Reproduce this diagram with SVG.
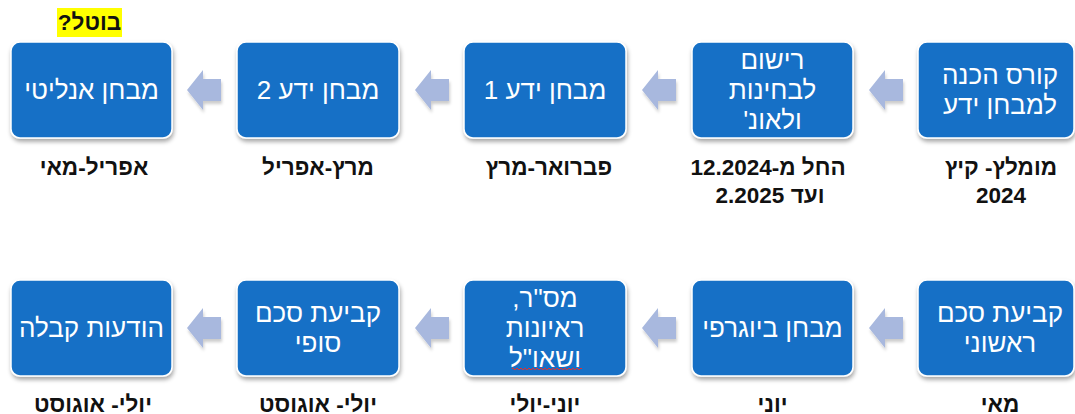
<svg xmlns="http://www.w3.org/2000/svg" width="1075" height="414" viewBox="0 0 1075 414">
<defs>
<filter id="sh" x="-10%" y="-10%" width="125%" height="130%">
<feDropShadow dx="1" dy="3" stdDeviation="2" flood-color="#000" flood-opacity="0.35"/>
</filter>
<filter id="ash" x="-20%" y="-20%" width="150%" height="150%">
<feDropShadow dx="1" dy="3" stdDeviation="1.5" flood-color="#000" flood-opacity="0.2"/>
</filter>
<polygon id="arr" points="0,20 16,0 16,9 34,9 34,31 16,31 16,40" />
</defs>
<style>
.box{fill:#1270C6;stroke:#ffffff;stroke-width:1.5;filter:url(#sh)}
.bt{font-family:"Liberation Sans",Arial,sans-serif;font-size:26px;fill:#ffffff;text-anchor:middle;direction:rtl}
.lb{font-family:"Liberation Sans",Arial,sans-serif;font-size:22.5px;font-weight:bold;fill:#111;text-anchor:middle;direction:rtl}
.ar{fill:#A8B8DE;filter:url(#ash)}
</style>
<rect width="1075" height="414" fill="#ffffff"/>

<g id="connectors">
<use href="#arr" class="ar" x="187" y="70"/>
<use href="#arr" class="ar" x="415" y="70"/>
<use href="#arr" class="ar" x="642" y="70"/>
<use href="#arr" class="ar" x="869" y="70"/>
<use href="#arr" class="ar" x="187" y="308"/>
<use href="#arr" class="ar" x="415" y="308"/>
<use href="#arr" class="ar" x="642" y="308"/>
<use href="#arr" class="ar" x="869" y="308"/>
</g>

<g id="cancel-note">
<rect x="57" y="8" width="65" height="29" fill="#FFFF00"/>
<text class="lb" x="89.5" y="30">בוטל?</text>
</g>

<g id="n-analytic">
<rect class="box" x="11" y="42" width="161" height="96" rx="9"/>
<text class="bt" x="91.5" y="99">מבחן אנליטי</text>
<text class="lb" x="94" y="175">אפריל-מאי</text>
</g>
<g id="n-knowledge2">
<rect class="box" x="237" y="42" width="162" height="96" rx="9"/>
<text class="bt" x="318" y="99">מבחן ידע 2</text>
<text class="lb" x="318" y="175">מרץ-אפריל</text>
</g>
<g id="n-knowledge1">
<rect class="box" x="464" y="42" width="162" height="96" rx="9"/>
<text class="bt" x="545" y="99">מבחן ידע 1</text>
<text class="lb" x="549" y="175">פברואר-מרץ</text>
</g>
<g id="n-registration">
<rect class="box" x="692" y="42" width="161" height="96" rx="9"/>
<text class="bt" x="772.5" y="69">רישום</text>
<text class="bt" x="772.5" y="99">לבחינות</text>
<text class="bt" x="772.5" y="129">ולאונ'</text>
<text class="lb" x="768" y="175">החל מ-12.2024</text>
<text class="lb" x="770" y="203">ועד 2.2025</text>
</g>
<g id="n-course">
<rect class="box" x="918" y="42" width="156" height="96" rx="9"/>
<text class="bt" x="1000" y="84">קורס הכנה</text>
<text class="bt" x="1000" y="114">למבחן ידע</text>
<text class="lb" x="1001" y="175">מומלץ- קיץ</text>
<text class="lb" x="1001" y="203">2024</text>
</g>

<g id="n-acceptance">
<rect class="box" x="11" y="280" width="161" height="96" rx="9"/>
<text class="bt" x="91.5" y="337">הודעות קבלה</text>
<text class="lb" x="93" y="412">יולי- אוגוסט</text>
</g>
<g id="n-final-sum">
<rect class="box" x="237" y="280" width="162" height="96" rx="9"/>
<text class="bt" x="318" y="322">קביעת סכם</text>
<text class="bt" x="318" y="352">סופי</text>
<text class="lb" x="318" y="412">יולי- אוגוסט</text>
</g>
<g id="n-interviews">
<rect class="box" x="464" y="280" width="162" height="96" rx="9"/>
<text class="bt" x="545" y="307">מס"ר,</text>
<text class="bt" x="545" y="337">ראיונות</text>
<text class="bt" x="545" y="367">ושאו"ל</text>
<path d="M512,369 q1,-2 2,0 t2,0 t2,0 t2,0 t2,0 t2,0 t2,0 t2,0 t2,0 t2,0 t2,0 t2,0 t2,0 t2,0 t2,0 t2,0 t2,0 t2,0 t2,0 t2,0 t2,0 t2,0 t2,0 t2,0 t2,0 t2,0 t2,0 t2,0 t2,0 t2,0 t2,0 t2,0 t2,0 t2,0 t2,0" fill="none" stroke="#E03030" stroke-width="1"/>
<text class="lb" x="545" y="412">יוני-יולי</text>
</g>
<g id="n-biographic">
<rect class="box" x="692" y="280" width="161" height="96" rx="9"/>
<text class="bt" x="772.5" y="337">מבחן ביוגרפי</text>
<text class="lb" x="772.5" y="412">יוני</text>
</g>
<g id="n-initial-sum">
<rect class="box" x="918" y="280" width="156" height="96" rx="9"/>
<text class="bt" x="1000" y="322">קביעת סכם</text>
<text class="bt" x="1000" y="352">ראשוני</text>
<text class="lb" x="1000" y="412">מאי</text>
</g>
</svg>
